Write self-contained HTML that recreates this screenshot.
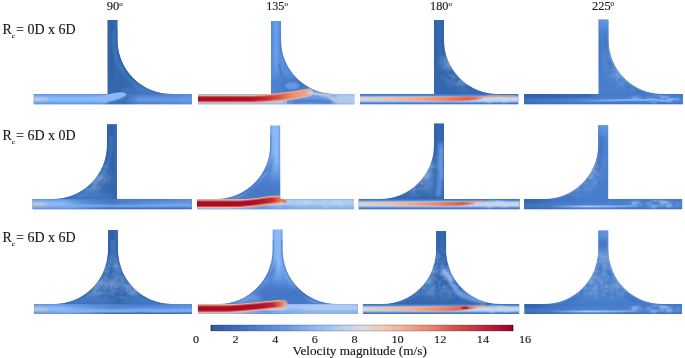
<!DOCTYPE html>
<html><head><meta charset="utf-8"><style>
html,body{margin:0;padding:0;background:#fff;}
svg{display:block;}
</style></head><body>
<svg width="685" height="358" viewBox="0 0 685 358">
<defs>

<filter id="b05" filterUnits="userSpaceOnUse" x="-800" y="-800" width="2000" height="2000"><feGaussianBlur stdDeviation="0.5"/></filter>
<filter id="b1" filterUnits="userSpaceOnUse" x="-800" y="-800" width="2000" height="2000"><feGaussianBlur stdDeviation="1"/></filter>
<filter id="b15" filterUnits="userSpaceOnUse" x="-800" y="-800" width="2000" height="2000"><feGaussianBlur stdDeviation="1.5"/></filter>
<filter id="b2" filterUnits="userSpaceOnUse" x="-800" y="-800" width="2000" height="2000"><feGaussianBlur stdDeviation="2"/></filter>
<filter id="b3" filterUnits="userSpaceOnUse" x="-800" y="-800" width="2000" height="2000"><feGaussianBlur stdDeviation="3.5"/></filter>
<filter id="mL0" x="0" y="0" width="100%" height="100%"><feTurbulence type="fractalNoise" baseFrequency="0.06 0.08" numOctaves="2" seed="1"/><feColorMatrix type="matrix" values="0 0 0 0 0.38 0 0 0 0 0.56 0 0 0 0 0.87 1.6 0 0 0 -0.62"/><feGaussianBlur stdDeviation="0.7"/></filter><filter id="mL1" x="0" y="0" width="100%" height="100%"><feTurbulence type="fractalNoise" baseFrequency="0.06 0.08" numOctaves="2" seed="8"/><feColorMatrix type="matrix" values="0 0 0 0 0.38 0 0 0 0 0.56 0 0 0 0 0.87 1.6 0 0 0 -0.58"/><feGaussianBlur stdDeviation="0.7"/></filter><filter id="mL2" x="0" y="0" width="100%" height="100%"><feTurbulence type="fractalNoise" baseFrequency="0.07 0.07" numOctaves="2" seed="15"/><feColorMatrix type="matrix" values="0 0 0 0 0.17 0 0 0 0 0.34 0 0 0 0 0.62 1.6 0 0 0 -0.65"/><feGaussianBlur stdDeviation="0.7"/></filter><filter id="mL3" x="0" y="0" width="100%" height="100%"><feTurbulence type="fractalNoise" baseFrequency="0.06 0.07" numOctaves="2" seed="22"/><feColorMatrix type="matrix" values="0 0 0 0 0.48 0 0 0 0 0.66 0 0 0 0 0.93 1.6 0 0 0 -0.6"/><feGaussianBlur stdDeviation="0.7"/></filter><filter id="mL4" x="0" y="0" width="100%" height="100%"><feTurbulence type="fractalNoise" baseFrequency="0.12 0.16" numOctaves="2" seed="29"/><feColorMatrix type="matrix" values="0 0 0 0 0.55 0 0 0 0 0.72 0 0 0 0 0.96 2.0 0 0 0 -0.8"/><feGaussianBlur stdDeviation="0.7"/></filter><filter id="mL5" x="0" y="0" width="100%" height="100%"><feTurbulence type="fractalNoise" baseFrequency="0.22 0.26" numOctaves="2" seed="36"/><feColorMatrix type="matrix" values="0 0 0 0 0.24 0 0 0 0 0.42 0 0 0 0 0.72 1.8 0 0 0 -0.7"/><feGaussianBlur stdDeviation="0.7"/></filter>
<linearGradient id="vfade" x1="0" y1="0" x2="0" y2="1"><stop offset="0" stop-color="#fff"/><stop offset="0.55" stop-color="#fff"/><stop offset="1" stop-color="#000"/></linearGradient>
<radialGradient id="rsoft" cx="0.5" cy="0.5" r="0.5"><stop offset="0" stop-color="#fff"/><stop offset="0.6" stop-color="#fff"/><stop offset="1" stop-color="#000"/></radialGradient>
<mask id="softm" maskContentUnits="objectBoundingBox"><rect width="1" height="1" fill="url(#rsoft)"/></mask>
<clipPath id="above"><rect x="-500" y="-500" width="1000" height="499.5"/></clipPath>
<mask id="mvf" maskContentUnits="objectBoundingBox"><rect width="1" height="1" fill="url(#vfade)"/></mask>
<clipPath id="c1"><path d="M-74.00,0 L0,0 L0,-74.00 L10,-74.00 L10,-54 A54,54 0 0 0 64,0 L84.50,0 L84.50,10.3 L-74.00,10.3 Z"/></clipPath>
<linearGradient id="g1" x1="0" y1="0" x2="1" y2="0"><stop offset="0" stop-color="#3366ae"/><stop offset="0.5" stop-color="#2f60a3"/><stop offset="0.85" stop-color="#386ab3"/><stop offset="1" stop-color="#3b6db6"/></linearGradient>
<linearGradient id="g2" x1="0" y1="0" x2="0" y2="1"><stop offset="0" stop-color="#4679c8"/><stop offset="0.35" stop-color="#5a8ee0"/><stop offset="0.6" stop-color="#689be4"/><stop offset="1" stop-color="#4679c8"/></linearGradient>
<linearGradient id="g3" x1="44.5" y1="0" x2="84.5" y2="0" gradientUnits="userSpaceOnUse"><stop offset="0" stop-color="#6a9de6" stop-opacity="0"/><stop offset="1" stop-color="#6a9de6" stop-opacity="0.5"/></linearGradient>
<linearGradient id="g4" x1="0" y1="0" x2="0" y2="1"><stop offset="0" stop-color="#5d90de"/><stop offset="0.2" stop-color="#78a9ee"/><stop offset="0.5" stop-color="#93bef6"/><stop offset="0.8" stop-color="#78a9ee"/><stop offset="1" stop-color="#5a8cdc"/></linearGradient>
<linearGradient id="g5" x1="-15" y1="0" x2="0" y2="0" gradientUnits="userSpaceOnUse"><stop offset="0" stop-color="#8cb8f4" stop-opacity="0"/><stop offset="1" stop-color="#8cb8f4" stop-opacity="1"/></linearGradient>
<linearGradient id="g6" x1="-4" y1="0" x2="32" y2="0" gradientUnits="userSpaceOnUse"><stop offset="0" stop-color="#3668b0"/><stop offset="0.6" stop-color="#3668b0" stop-opacity="0.9"/><stop offset="1" stop-color="#3668b0" stop-opacity="0"/></linearGradient>
<clipPath id="c2"><path d="M-73.00,0 L0,0 L0,-73.00 L10,-73.00 L10,-54 A54,54 0 0 0 64,0 L83.30,0 L83.30,10.3 L-73.00,10.3 Z"/></clipPath>
<linearGradient id="g7" x1="0" y1="-73" x2="0" y2="0" gradientUnits="userSpaceOnUse"><stop offset="0" stop-color="#5f93e2"/><stop offset="0.6" stop-color="#5a8edf"/><stop offset="1" stop-color="#5286d8"/></linearGradient>
<linearGradient id="g8" x1="0" y1="0" x2="1" y2="0"><stop offset="0" stop-color="#4f85d8"/><stop offset="0.5" stop-color="#6fa0ea"/><stop offset="1" stop-color="#5288da"/></linearGradient>
<linearGradient id="g9" x1="0" y1="0" x2="0" y2="1"><stop offset="0" stop-color="#8db6ef"/><stop offset="0.15" stop-color="#a9c7f0"/><stop offset="0.5" stop-color="#b8cfee"/><stop offset="0.85" stop-color="#a9c7f0"/><stop offset="1" stop-color="#86b1ee"/></linearGradient>
<linearGradient id="g10" x1="16" y1="0" x2="68" y2="0" gradientUnits="userSpaceOnUse"><stop offset="0" stop-color="#5a8ee0" stop-opacity="0.9"/><stop offset="0.8" stop-color="#5a8ee0" stop-opacity="0.8"/><stop offset="1" stop-color="#5a8ee0" stop-opacity="0"/></linearGradient>
<linearGradient id="g11" x1="-73" y1="0" x2="38" y2="0" gradientUnits="userSpaceOnUse"><stop offset="0" stop-color="#f0ae90"/><stop offset="0.9" stop-color="#f2b294"/><stop offset="1" stop-color="#e4c8c0" stop-opacity="0.7"/></linearGradient>
<linearGradient id="g12" x1="-73" y1="0" x2="38" y2="0" gradientUnits="userSpaceOnUse"><stop offset="0" stop-color="#d64c46"/><stop offset="0.6" stop-color="#d85048"/><stop offset="0.75" stop-color="#e2684f"/><stop offset="0.88" stop-color="#ee9474"/><stop offset="1" stop-color="#f0a888" stop-opacity="0.75"/></linearGradient>
<linearGradient id="g13" x1="-73" y1="0" x2="38" y2="0" gradientUnits="userSpaceOnUse"><stop offset="0" stop-color="#a00d2a"/><stop offset="0.45" stop-color="#a50f2c"/><stop offset="0.6" stop-color="#bc2636"/><stop offset="0.72" stop-color="#d04644" stop-opacity="0.7"/><stop offset="0.82" stop-color="#e07058" stop-opacity="0"/></linearGradient>
<clipPath id="c3"><path d="M-74.00,0 L0,0 L0,-74.00 L10,-74.00 L10,-54 A54,54 0 0 0 64,0 L84.30,0 L84.30,10.3 L-74.00,10.3 Z"/></clipPath>
<linearGradient id="g14" x1="0" y1="0" x2="1" y2="0"><stop offset="0" stop-color="#3062a8"/><stop offset="0.5" stop-color="#3769b2"/><stop offset="1" stop-color="#3163a9"/></linearGradient>
<linearGradient id="g15" x1="0" y1="0" x2="0" y2="1"><stop offset="0" stop-color="#3a6cb8"/><stop offset="0.13" stop-color="#5085d4"/><stop offset="0.27" stop-color="#9cc0f0"/><stop offset="0.4" stop-color="#ccd6e6"/><stop offset="0.5" stop-color="#d6d2d4"/><stop offset="0.6" stop-color="#ccd6e6"/><stop offset="0.73" stop-color="#9cc0f0"/><stop offset="0.87" stop-color="#5085d4"/><stop offset="1" stop-color="#3a6cb8"/></linearGradient>
<linearGradient id="g16" x1="-74" y1="0" x2="48" y2="0" gradientUnits="userSpaceOnUse"><stop offset="0" stop-color="#dcd4d0"/><stop offset="0.3" stop-color="#f0c0a8"/><stop offset="0.52" stop-color="#f2aa8a"/><stop offset="0.7" stop-color="#ec8c72"/><stop offset="0.88" stop-color="#e26a56"/><stop offset="1" stop-color="#e26a56" stop-opacity="0.3"/></linearGradient>
<linearGradient id="g17" x1="-74" y1="0" x2="48" y2="0" gradientUnits="userSpaceOnUse"><stop offset="0" stop-color="#e4cdc2" stop-opacity="0"/><stop offset="0.4" stop-color="#f2a888" stop-opacity="0.5"/><stop offset="0.7" stop-color="#ea8468"/><stop offset="0.9" stop-color="#dc5a4c"/><stop offset="1" stop-color="#dc5a4c" stop-opacity="0.3"/></linearGradient>
<clipPath id="c4"><path d="M-74.50,0 L0,0 L0,-74.40 L10,-74.40 L10,-54 A54,54 0 0 0 64,0 L84.50,0 L84.50,10.3 L-74.50,10.3 Z"/></clipPath>
<linearGradient id="g18" x1="0" y1="-74.4" x2="0" y2="0" gradientUnits="userSpaceOnUse"><stop offset="0" stop-color="#5a90e0"/><stop offset="0.35" stop-color="#4c81d0"/><stop offset="1" stop-color="#487dcc"/></linearGradient>
<linearGradient id="g19" x1="0" y1="0" x2="1" y2="0"><stop offset="0" stop-color="#3f73c0"/><stop offset="0.5" stop-color="#5084d2"/><stop offset="1" stop-color="#4c80ce"/></linearGradient>
<linearGradient id="g20" x1="0" y1="-74.4" x2="0" y2="-54.400000000000006" gradientUnits="userSpaceOnUse"><stop offset="0" stop-color="#6a9de6" stop-opacity="0.7"/><stop offset="1" stop-color="#6a9de6" stop-opacity="0"/></linearGradient>
<linearGradient id="g21" x1="0" y1="0" x2="0" y2="1"><stop offset="0" stop-color="#4479c8"/><stop offset="0.45" stop-color="#4c81d1"/><stop offset="0.75" stop-color="#5085d4"/><stop offset="1" stop-color="#3a6cb8"/></linearGradient>
<linearGradient id="g22" x1="-74.5" y1="0" x2="4" y2="0" gradientUnits="userSpaceOnUse"><stop offset="0" stop-color="#3264ac" stop-opacity="0.9"/><stop offset="0.8" stop-color="#3264ac" stop-opacity="0.7"/><stop offset="1" stop-color="#3264ac" stop-opacity="0"/></linearGradient>
<linearGradient id="g23" x1="-74.5" y1="0" x2="-14.5" y2="0" gradientUnits="userSpaceOnUse"><stop offset="0" stop-color="#2f60a6" stop-opacity="0.5"/><stop offset="1" stop-color="#2f60a6" stop-opacity="0"/></linearGradient>
<linearGradient id="g24" x1="-20" y1="0" x2="84.5" y2="0" gradientUnits="userSpaceOnUse"><stop offset="0" stop-color="#86b3f2" stop-opacity="0"/><stop offset="0.3" stop-color="#86b3f2" stop-opacity="0.95"/><stop offset="1" stop-color="#86b3f2" stop-opacity="0.8"/></linearGradient>
<clipPath id="c5"><path d="M-74.50,0 L-54,0 A54,54 0 0 0 0,-54 L0,-74.70 L10,-74.70 L10,0 L84.80,0 L84.80,10.2 L-74.50,10.2 Z"/></clipPath>
<linearGradient id="g25" x1="0" y1="0" x2="1" y2="0"><stop offset="0" stop-color="#3366ae"/><stop offset="0.5" stop-color="#2f60a3"/><stop offset="0.85" stop-color="#386ab3"/><stop offset="1" stop-color="#3b6db6"/></linearGradient>
<linearGradient id="g26" x1="0" y1="0" x2="0" y2="1"><stop offset="0" stop-color="#4679c8"/><stop offset="0.35" stop-color="#5a8ee0"/><stop offset="0.6" stop-color="#689be4"/><stop offset="1" stop-color="#4679c8"/></linearGradient>
<linearGradient id="g27" x1="44.80000000000001" y1="0" x2="84.80000000000001" y2="0" gradientUnits="userSpaceOnUse"><stop offset="0" stop-color="#6a9de6" stop-opacity="0"/><stop offset="1" stop-color="#6a9de6" stop-opacity="0.5"/></linearGradient>
<linearGradient id="g28" x1="0" y1="0" x2="0" y2="1"><stop offset="0" stop-color="#5d90de"/><stop offset="0.2" stop-color="#78a9ee"/><stop offset="0.5" stop-color="#93bef6"/><stop offset="0.8" stop-color="#78a9ee"/><stop offset="1" stop-color="#5a8cdc"/></linearGradient>
<linearGradient id="g29" x1="-5" y1="0" x2="30" y2="0" gradientUnits="userSpaceOnUse"><stop offset="0" stop-color="#fff"/><stop offset="1" stop-color="#000"/></linearGradient>
<mask id="hm1" maskUnits="userSpaceOnUse" x="-300" y="-300" width="600" height="600"><rect x="-300" y="-300" width="600" height="600" fill="url(#g29)"/></mask>
<linearGradient id="g30" x1="-45" y1="0" x2="40" y2="0" gradientUnits="userSpaceOnUse"><stop offset="0" stop-color="#4a7fcf" stop-opacity="0"/><stop offset="0.35" stop-color="#4a7fcf" stop-opacity="0.75"/><stop offset="0.6" stop-color="#4679c8" stop-opacity="0.9"/><stop offset="1" stop-color="#4679c8" stop-opacity="0"/></linearGradient>
<linearGradient id="g31" x1="-45" y1="0" x2="40" y2="0" gradientUnits="userSpaceOnUse"><stop offset="0" stop-color="#3f72c0" stop-opacity="0"/><stop offset="0.4" stop-color="#3f72c0" stop-opacity="0.35"/><stop offset="0.6" stop-color="#3f72c0" stop-opacity="0.5"/><stop offset="1" stop-color="#3f72c0" stop-opacity="0"/></linearGradient>
<linearGradient id="g32" x1="-35" y1="0" x2="84.80000000000001" y2="0" gradientUnits="userSpaceOnUse"><stop offset="0" stop-color="#3a6cb8" stop-opacity="0"/><stop offset="0.3" stop-color="#3a6cb8" stop-opacity="0.8"/><stop offset="1" stop-color="#3a6cb8" stop-opacity="0.8"/></linearGradient>
<clipPath id="c6"><path d="M-73.20,0 L-54,0 A54,54 0 0 0 0,-54 L0,-73.40 L10,-73.40 L10,0 L83.80,0 L83.80,10.2 L-73.20,10.2 Z"/></clipPath>
<linearGradient id="g33" x1="0" y1="-73.4" x2="0" y2="0" gradientUnits="userSpaceOnUse"><stop offset="0" stop-color="#86b5f3"/><stop offset="0.3" stop-color="#7eaef0"/><stop offset="0.55" stop-color="#6599e4"/><stop offset="0.85" stop-color="#5285d6"/><stop offset="1" stop-color="#4a7ccc"/></linearGradient>
<linearGradient id="g34" x1="0" y1="0" x2="1" y2="0"><stop offset="0" stop-color="#6a9de6"/><stop offset="0.25" stop-color="#88b6f3"/><stop offset="0.7" stop-color="#90bbf4"/><stop offset="1" stop-color="#6a9de6"/></linearGradient>
<linearGradient id="g35" x1="0" y1="0" x2="0" y2="1"><stop offset="0" stop-color="#8db6ef"/><stop offset="0.15" stop-color="#a9c7f0"/><stop offset="0.5" stop-color="#b8cfee"/><stop offset="0.85" stop-color="#a9c7f0"/><stop offset="1" stop-color="#86b1ee"/></linearGradient>
<linearGradient id="g36" x1="-45" y1="0" x2="30" y2="0" gradientUnits="userSpaceOnUse"><stop offset="0" stop-color="#5a8ee0" stop-opacity="0"/><stop offset="0.5" stop-color="#5a8ee0" stop-opacity="0.8"/><stop offset="1" stop-color="#5a8ee0" stop-opacity="0"/></linearGradient>
<linearGradient id="g37" x1="-73.19999999999999" y1="0" x2="12" y2="0" gradientUnits="userSpaceOnUse"><stop offset="0" stop-color="#f0ae90"/><stop offset="0.93" stop-color="#f2b294"/><stop offset="1" stop-color="#f2b294" stop-opacity="0.5"/></linearGradient>
<linearGradient id="g38" x1="-73.19999999999999" y1="0" x2="12" y2="0" gradientUnits="userSpaceOnUse"><stop offset="0" stop-color="#d64c46"/><stop offset="0.75" stop-color="#da5448"/><stop offset="0.92" stop-color="#e6765e"/><stop offset="1" stop-color="#f0a080" stop-opacity="0.7"/></linearGradient>
<linearGradient id="g39" x1="-73.19999999999999" y1="0" x2="12" y2="0" gradientUnits="userSpaceOnUse"><stop offset="0" stop-color="#a00d2a"/><stop offset="0.4" stop-color="#a50f2c"/><stop offset="0.72" stop-color="#a8122e"/><stop offset="0.88" stop-color="#be2a36"/><stop offset="1" stop-color="#d85048" stop-opacity="0.2"/></linearGradient>
<clipPath id="c7"><path d="M-75.30,0 L-54,0 A54,54 0 0 0 0,-54 L0,-75.60 L10,-75.60 L10,0 L85.60,0 L85.60,10.2 L-75.30,10.2 Z"/></clipPath>
<linearGradient id="g40" x1="0" y1="0" x2="1" y2="0"><stop offset="0" stop-color="#3062a8"/><stop offset="0.5" stop-color="#3769b2"/><stop offset="1" stop-color="#3163a9"/></linearGradient>
<linearGradient id="g41" x1="0" y1="0" x2="0" y2="1"><stop offset="0" stop-color="#3a6cb8"/><stop offset="0.13" stop-color="#5085d4"/><stop offset="0.27" stop-color="#9cc0f0"/><stop offset="0.4" stop-color="#ccd6e6"/><stop offset="0.5" stop-color="#d6d2d4"/><stop offset="0.6" stop-color="#ccd6e6"/><stop offset="0.73" stop-color="#9cc0f0"/><stop offset="0.87" stop-color="#5085d4"/><stop offset="1" stop-color="#3a6cb8"/></linearGradient>
<linearGradient id="g42" x1="-75.30000000000001" y1="0" x2="40" y2="0" gradientUnits="userSpaceOnUse"><stop offset="0" stop-color="#dcd4d0"/><stop offset="0.3" stop-color="#f0c0a8"/><stop offset="0.52" stop-color="#f2aa8a"/><stop offset="0.7" stop-color="#ec8c72"/><stop offset="0.88" stop-color="#e26a56"/><stop offset="1" stop-color="#e26a56" stop-opacity="0.3"/></linearGradient>
<linearGradient id="g43" x1="-75.30000000000001" y1="0" x2="40" y2="0" gradientUnits="userSpaceOnUse"><stop offset="0" stop-color="#e4cdc2" stop-opacity="0"/><stop offset="0.4" stop-color="#f2a888" stop-opacity="0.5"/><stop offset="0.7" stop-color="#ea8468"/><stop offset="0.9" stop-color="#dc5a4c"/><stop offset="1" stop-color="#dc5a4c" stop-opacity="0.3"/></linearGradient>
<clipPath id="c8"><path d="M-74.10,0 L-54,0 A54,54 0 0 0 0,-54 L0,-73.80 L10,-73.80 L10,0 L84.00,0 L84.00,10.2 L-74.10,10.2 Z"/></clipPath>
<linearGradient id="g44" x1="0" y1="-73.8" x2="0" y2="0" gradientUnits="userSpaceOnUse"><stop offset="0" stop-color="#5a90e0"/><stop offset="0.35" stop-color="#4c81d0"/><stop offset="1" stop-color="#487dcc"/></linearGradient>
<linearGradient id="g45" x1="0" y1="0" x2="1" y2="0"><stop offset="0" stop-color="#3f73c0"/><stop offset="0.5" stop-color="#5084d2"/><stop offset="1" stop-color="#4c80ce"/></linearGradient>
<linearGradient id="g46" x1="0" y1="-73.8" x2="0" y2="-53.8" gradientUnits="userSpaceOnUse"><stop offset="0" stop-color="#6a9de6" stop-opacity="0.7"/><stop offset="1" stop-color="#6a9de6" stop-opacity="0"/></linearGradient>
<linearGradient id="g47" x1="0" y1="0" x2="0" y2="1"><stop offset="0" stop-color="#4479c8"/><stop offset="0.45" stop-color="#4c81d1"/><stop offset="0.75" stop-color="#5085d4"/><stop offset="1" stop-color="#3a6cb8"/></linearGradient>
<linearGradient id="g48" x1="-74.10000000000002" y1="0" x2="-44" y2="0" gradientUnits="userSpaceOnUse"><stop offset="0" stop-color="#3264ac" stop-opacity="0.8"/><stop offset="0.5" stop-color="#3264ac" stop-opacity="0.5"/><stop offset="1" stop-color="#3264ac" stop-opacity="0"/></linearGradient>
<linearGradient id="g49" x1="-74.10000000000002" y1="0" x2="-14.100000000000023" y2="0" gradientUnits="userSpaceOnUse"><stop offset="0" stop-color="#2f60a6" stop-opacity="0.5"/><stop offset="1" stop-color="#2f60a6" stop-opacity="0"/></linearGradient>
<linearGradient id="g50" x1="-50" y1="0" x2="40" y2="0" gradientUnits="userSpaceOnUse"><stop offset="0" stop-color="#a8c8f5" stop-opacity="0"/><stop offset="0.45" stop-color="#b0ccf5" stop-opacity="1"/><stop offset="1" stop-color="#a8c8f5" stop-opacity="0.3"/></linearGradient>
<linearGradient id="g51" x1="-50" y1="0" x2="40" y2="0" gradientUnits="userSpaceOnUse"><stop offset="0" stop-color="#6a9ce6" stop-opacity="0"/><stop offset="0.5" stop-color="#6a9ce6" stop-opacity="0.7"/><stop offset="1" stop-color="#6a9ce6" stop-opacity="0"/></linearGradient>
<clipPath id="c9"><path d="M-73.90,0 L-54,0 A54,54 0 0 0 0,-54 L0,-73.90 L10,-73.90 L10,-54 A54,54 0 0 0 64,0 L83.90,0 L83.90,10.1 L-73.90,10.1 Z"/></clipPath>
<linearGradient id="g52" x1="0" y1="0" x2="1" y2="0"><stop offset="0" stop-color="#3366ae"/><stop offset="0.5" stop-color="#2f60a3"/><stop offset="0.85" stop-color="#386ab3"/><stop offset="1" stop-color="#3b6db6"/></linearGradient>
<linearGradient id="g53" x1="0" y1="0" x2="0" y2="1"><stop offset="0" stop-color="#4679c8"/><stop offset="0.35" stop-color="#5a8ee0"/><stop offset="0.6" stop-color="#689be4"/><stop offset="1" stop-color="#4679c8"/></linearGradient>
<linearGradient id="g54" x1="43.900000000000006" y1="0" x2="83.9" y2="0" gradientUnits="userSpaceOnUse"><stop offset="0" stop-color="#6a9de6" stop-opacity="0"/><stop offset="1" stop-color="#6a9de6" stop-opacity="0.5"/></linearGradient>
<linearGradient id="g55" x1="0" y1="0" x2="0" y2="1"><stop offset="0" stop-color="#5d90de"/><stop offset="0.2" stop-color="#78a9ee"/><stop offset="0.5" stop-color="#93bef6"/><stop offset="0.8" stop-color="#78a9ee"/><stop offset="1" stop-color="#5a8cdc"/></linearGradient>
<linearGradient id="g56" x1="-5" y1="0" x2="30" y2="0" gradientUnits="userSpaceOnUse"><stop offset="0" stop-color="#fff"/><stop offset="1" stop-color="#000"/></linearGradient>
<mask id="hm2" maskUnits="userSpaceOnUse" x="-300" y="-300" width="600" height="600"><rect x="-300" y="-300" width="600" height="600" fill="url(#g56)"/></mask>
<linearGradient id="g57" x1="-45" y1="0" x2="40" y2="0" gradientUnits="userSpaceOnUse"><stop offset="0" stop-color="#4a7fcf" stop-opacity="0"/><stop offset="0.35" stop-color="#4a7fcf" stop-opacity="0.44999999999999996"/><stop offset="0.6" stop-color="#4679c8" stop-opacity="0.54"/><stop offset="1" stop-color="#4679c8" stop-opacity="0"/></linearGradient>
<linearGradient id="g58" x1="-45" y1="0" x2="40" y2="0" gradientUnits="userSpaceOnUse"><stop offset="0" stop-color="#3f72c0" stop-opacity="0"/><stop offset="0.4" stop-color="#3f72c0" stop-opacity="0.21"/><stop offset="0.6" stop-color="#3f72c0" stop-opacity="0.3"/><stop offset="1" stop-color="#3f72c0" stop-opacity="0"/></linearGradient>
<linearGradient id="g59" x1="-35" y1="0" x2="83.9" y2="0" gradientUnits="userSpaceOnUse"><stop offset="0" stop-color="#3a6cb8" stop-opacity="0"/><stop offset="0.3" stop-color="#3a6cb8" stop-opacity="0.8"/><stop offset="1" stop-color="#3a6cb8" stop-opacity="0.8"/></linearGradient>
<clipPath id="c10"><path d="M-74.70,0 L-54,0 A54,54 0 0 0 0,-54 L0,-74.40 L10,-74.40 L10,-54 A54,54 0 0 0 64,0 L85.20,0 L85.20,10.1 L-74.70,10.1 Z"/></clipPath>
<linearGradient id="g60" x1="0" y1="-74.4" x2="0" y2="0" gradientUnits="userSpaceOnUse"><stop offset="0" stop-color="#86b5f3"/><stop offset="0.3" stop-color="#7eaef0"/><stop offset="0.55" stop-color="#6599e4"/><stop offset="0.85" stop-color="#5285d6"/><stop offset="1" stop-color="#4a7ccc"/></linearGradient>
<linearGradient id="g61" x1="0" y1="0" x2="1" y2="0"><stop offset="0" stop-color="#6a9de6"/><stop offset="0.25" stop-color="#88b6f3"/><stop offset="0.7" stop-color="#90bbf4"/><stop offset="1" stop-color="#6a9de6"/></linearGradient>
<linearGradient id="g62" x1="0" y1="0" x2="0" y2="1"><stop offset="0" stop-color="#8db6ef"/><stop offset="0.15" stop-color="#a9c7f0"/><stop offset="0.5" stop-color="#b8cfee"/><stop offset="0.85" stop-color="#a9c7f0"/><stop offset="1" stop-color="#86b1ee"/></linearGradient>
<linearGradient id="g63" x1="-45" y1="0" x2="30" y2="0" gradientUnits="userSpaceOnUse"><stop offset="0" stop-color="#5a8ee0" stop-opacity="0"/><stop offset="0.5" stop-color="#5a8ee0" stop-opacity="0.8"/><stop offset="1" stop-color="#5a8ee0" stop-opacity="0"/></linearGradient>
<linearGradient id="g64" x1="-74.70000000000002" y1="0" x2="11" y2="0" gradientUnits="userSpaceOnUse"><stop offset="0" stop-color="#f0ae90"/><stop offset="0.93" stop-color="#f2b294"/><stop offset="1" stop-color="#f2b294" stop-opacity="0.5"/></linearGradient>
<linearGradient id="g65" x1="-74.70000000000002" y1="0" x2="11" y2="0" gradientUnits="userSpaceOnUse"><stop offset="0" stop-color="#d64c46"/><stop offset="0.75" stop-color="#da5448"/><stop offset="0.92" stop-color="#e6765e"/><stop offset="1" stop-color="#f0a080" stop-opacity="0.7"/></linearGradient>
<linearGradient id="g66" x1="-74.70000000000002" y1="0" x2="11" y2="0" gradientUnits="userSpaceOnUse"><stop offset="0" stop-color="#a00d2a"/><stop offset="0.4" stop-color="#a50f2c"/><stop offset="0.72" stop-color="#a8122e"/><stop offset="0.88" stop-color="#be2a36"/><stop offset="1" stop-color="#d85048" stop-opacity="0.2"/></linearGradient>
<clipPath id="c11"><path d="M-73.20,0 L-54,0 A54,54 0 0 0 0,-54 L0,-73.10 L10,-73.10 L10,-54 A54,54 0 0 0 64,0 L83.10,0 L83.10,10.1 L-73.20,10.1 Z"/></clipPath>
<linearGradient id="g67" x1="0" y1="0" x2="1" y2="0"><stop offset="0" stop-color="#3062a8"/><stop offset="0.5" stop-color="#3769b2"/><stop offset="1" stop-color="#3163a9"/></linearGradient>
<linearGradient id="g68" x1="0" y1="0" x2="0" y2="1"><stop offset="0" stop-color="#3a6cb8"/><stop offset="0.13" stop-color="#5085d4"/><stop offset="0.27" stop-color="#9cc0f0"/><stop offset="0.4" stop-color="#ccd6e6"/><stop offset="0.5" stop-color="#d6d2d4"/><stop offset="0.6" stop-color="#ccd6e6"/><stop offset="0.73" stop-color="#9cc0f0"/><stop offset="0.87" stop-color="#5085d4"/><stop offset="1" stop-color="#3a6cb8"/></linearGradient>
<linearGradient id="g69" x1="-73.20000000000005" y1="0" x2="40" y2="0" gradientUnits="userSpaceOnUse"><stop offset="0" stop-color="#dcd4d0"/><stop offset="0.3" stop-color="#f0c0a8"/><stop offset="0.52" stop-color="#f2aa8a"/><stop offset="0.7" stop-color="#ec8c72"/><stop offset="0.88" stop-color="#e26a56"/><stop offset="1" stop-color="#e26a56" stop-opacity="0.3"/></linearGradient>
<linearGradient id="g70" x1="-73.20000000000005" y1="0" x2="40" y2="0" gradientUnits="userSpaceOnUse"><stop offset="0" stop-color="#e4cdc2" stop-opacity="0"/><stop offset="0.4" stop-color="#f2a888" stop-opacity="0.5"/><stop offset="0.7" stop-color="#ea8468"/><stop offset="0.9" stop-color="#dc5a4c"/><stop offset="1" stop-color="#dc5a4c" stop-opacity="0.3"/></linearGradient>
<clipPath id="c12"><path d="M-74.00,0 L-54,0 A54,54 0 0 0 0,-54 L0,-73.50 L10,-73.50 L10,-54 A54,54 0 0 0 64,0 L83.80,0 L83.80,10.1 L-74.00,10.1 Z"/></clipPath>
<linearGradient id="g71" x1="0" y1="-73.5" x2="0" y2="0" gradientUnits="userSpaceOnUse"><stop offset="0" stop-color="#5a90e0"/><stop offset="0.35" stop-color="#4c81d0"/><stop offset="1" stop-color="#487dcc"/></linearGradient>
<linearGradient id="g72" x1="0" y1="0" x2="1" y2="0"><stop offset="0" stop-color="#3f73c0"/><stop offset="0.5" stop-color="#5084d2"/><stop offset="1" stop-color="#4c80ce"/></linearGradient>
<linearGradient id="g73" x1="0" y1="-73.5" x2="0" y2="-53.5" gradientUnits="userSpaceOnUse"><stop offset="0" stop-color="#6a9de6" stop-opacity="0.7"/><stop offset="1" stop-color="#6a9de6" stop-opacity="0"/></linearGradient>
<linearGradient id="g74" x1="0" y1="0" x2="0" y2="1"><stop offset="0" stop-color="#4479c8"/><stop offset="0.45" stop-color="#4c81d1"/><stop offset="0.75" stop-color="#5085d4"/><stop offset="1" stop-color="#3a6cb8"/></linearGradient>
<linearGradient id="g75" x1="-74.0" y1="0" x2="-44" y2="0" gradientUnits="userSpaceOnUse"><stop offset="0" stop-color="#3264ac" stop-opacity="0.8"/><stop offset="0.5" stop-color="#3264ac" stop-opacity="0.5"/><stop offset="1" stop-color="#3264ac" stop-opacity="0"/></linearGradient>
<linearGradient id="g76" x1="-74.0" y1="0" x2="-14.0" y2="0" gradientUnits="userSpaceOnUse"><stop offset="0" stop-color="#2f60a6" stop-opacity="0.5"/><stop offset="1" stop-color="#2f60a6" stop-opacity="0"/></linearGradient>
<linearGradient id="g77" x1="-50" y1="0" x2="40" y2="0" gradientUnits="userSpaceOnUse"><stop offset="0" stop-color="#a8c8f5" stop-opacity="0"/><stop offset="0.45" stop-color="#b0ccf5" stop-opacity="1"/><stop offset="1" stop-color="#a8c8f5" stop-opacity="0.3"/></linearGradient>
<linearGradient id="g78" x1="-50" y1="0" x2="40" y2="0" gradientUnits="userSpaceOnUse"><stop offset="0" stop-color="#6a9ce6" stop-opacity="0"/><stop offset="0.5" stop-color="#6a9ce6" stop-opacity="0.7"/><stop offset="1" stop-color="#6a9ce6" stop-opacity="0"/></linearGradient>
<linearGradient id="g79" x1="0" y1="0" x2="1" y2="0"><stop offset="0" stop-color="#2c5a9e"/><stop offset="0.13" stop-color="#4678c8"/><stop offset="0.26" stop-color="#6a9ce8"/><stop offset="0.36" stop-color="#93bdf6"/><stop offset="0.45" stop-color="#c0d3ee"/><stop offset="0.5" stop-color="#dcdcdc"/><stop offset="0.57" stop-color="#efcbb8"/><stop offset="0.64" stop-color="#f4ad8c"/><stop offset="0.73" stop-color="#e8836a"/><stop offset="0.8" stop-color="#d6574b"/><stop offset="0.9" stop-color="#bb2a3c"/><stop offset="1" stop-color="#9c0027"/></linearGradient>
</defs>
<rect width="685" height="358" fill="#fff"/>
<g transform="translate(107.5,94)"><g clip-path="url(#c1)">
<rect x="-76.0" y="-76.0" width="162.5" height="88.3" fill="#3567ad" />
<rect x="0" y="-74.0" width="10" height="66.0" fill="url(#g1)" mask="url(#mvf)"/>
<g clip-path="url(#above)">
<path d="M6,-64 L6,-54 A58,58 0 0 0 64,4 L74,4" stroke="#4a7fcc" stroke-width="3" fill="none" opacity="0.6" stroke-linecap="butt" filter="url(#b1)"/>
</g>
<g clip-path="url(#above)">
<path d="M9.5,-64 L9.5,-54 A54.5,54.5 0 0 0 64,0.5 L74,0.5" stroke="#2f5fa5" stroke-width="1.5" fill="none" opacity="0.7" stroke-linecap="butt" filter="url(#b05)"/>
</g>
<ellipse cx="45.0" cy="-3.0" rx="32.0" ry="5.0" fill="#4a80cc" opacity="0.6" filter="url(#b2)"/>
<g mask="url(#softm)"><rect x="10.0" y="-50.0" width="54.0" height="50.0" fill="#fff" filter="url(#mL2)" opacity="0.5"/></g>
<rect x="-2.0" y="0.0" width="86.5" height="10.3" fill="url(#g2)" />
<rect x="44.5" y="0.0" width="40.0" height="10.3" fill="url(#g3)" />
<rect x="-74.0" y="0.0" width="74.0" height="10.3" fill="url(#g4)" />
<ellipse cx="-69.0" cy="5.0" rx="10.0" ry="1.7" fill="#d4d2d6" opacity="0.75" filter="url(#b1)"/>
<path d="M-15,2.2 Q0,1.5 4,-0.5 Q10,-1.8 14,-1.8 Q18,-1.6 19,0 Q19,2 16,3.5 Q8,6.5 -2,8.2 L-15,8.2 Z" fill="url(#g5)" opacity="1" filter="url(#b05)"/>
<path d="M-4,10.5 Q6,8 12,5.5 Q17,3 20,1 L28,1 L32,10.5 Z" fill="url(#g6)" opacity="0.9" filter="url(#b1)"/>
</g></g>
<g transform="translate(271,94)"><g clip-path="url(#c2)">
<rect x="-75.0" y="-75.0" width="160.3" height="87.3" fill="url(#g7)" />
<rect x="0" y="-73.0" width="10" height="63.0" fill="url(#g8)" mask="url(#mvf)"/>
<g clip-path="url(#above)">
<path d="M9.399999999999999,-64 L9.399999999999999,-54 A54.6,54.6 0 0 0 64,0.6000000000000014 L74,0.6000000000000014" stroke="#4a7cc8" stroke-width="1.6" fill="none" opacity="0.6" stroke-linecap="butt" filter="url(#b05)"/>
</g>
<ellipse cx="25.0" cy="-10.0" rx="30.0" ry="8.0" fill="#4272c0" opacity="0.45" filter="url(#b3)"/>
<ellipse cx="21.0" cy="-8.0" rx="9.0" ry="5.0" fill="#6e9fe8" opacity="0.8" filter="url(#b1)"/>
<ellipse cx="21" cy="-8" rx="9" ry="5" fill="none" stroke="#3564ad" stroke-width="2.2" opacity="0.7" filter="url(#b1)"/>
<path d="M8,-30 Q10,-18 14,-14" stroke="#3f6fbc" stroke-width="2" fill="none" opacity="0.6" stroke-linecap="butt" filter="url(#b05)"/>
<path d="M30,-14 Q34,-8 40,-4" stroke="#3f6fbc" stroke-width="2" fill="none" opacity="0.5" stroke-linecap="butt" filter="url(#b05)"/>
<rect x="-73.0" y="0.0" width="156.3" height="10.3" fill="url(#g9)" />
<rect x="12.0" y="6.0" width="71.3" height="4.0" fill="#6a9be4" opacity="0.45" filter="url(#b1)"/>
<rect x="16.0" y="1.0" width="52.0" height="9.3" fill="url(#g10)" filter="url(#b05)"/>
<path d="M22,8.5 Q40,5.5 60,8.5" stroke="#3868b4" stroke-width="2.2" fill="none" opacity="0.8" stroke-linecap="butt" filter="url(#b1)"/>
<path d="M-78,5.0 L-22,5.0 C0,4.8 18,2.6 38,-1.5999999999999996" stroke="url(#g11)" stroke-width="8.2" fill="none" opacity="1" stroke-linecap="round" filter="url(#b05)"/>
<path d="M-78,5.0 L-22,5.0 C0,4.8 18,2.6 38,-1.5999999999999996" stroke="url(#g12)" stroke-width="6.0" fill="none" opacity="1" stroke-linecap="round" filter="url(#b05)"/>
<path d="M-78,5.0 L-22,5.0 C0,4.8 18,2.6 38,-1.5999999999999996" stroke="url(#g13)" stroke-width="3.4" fill="none" opacity="1" stroke-linecap="butt" filter="url(#b05)"/>
<path d="M36,-1.6 Q48,-0.5 56,1.5 Q62,4.5 66,7.5 L85.30000000000001,8" stroke="#d2d6e0" stroke-width="2.6" fill="none" opacity="0.9" stroke-linecap="butt" filter="url(#b1)"/>
</g></g>
<g transform="translate(434,94)"><g clip-path="url(#c3)">
<rect x="-76.0" y="-76.0" width="162.3" height="88.3" fill="#3567ae" />
<rect x="0" y="-74.0" width="10" height="64.0" fill="url(#g14)" mask="url(#mvf)"/>
<g mask="url(#softm)"><rect x="2.0" y="-59.0" width="60.0" height="59.0" fill="#fff" filter="url(#mL1)" opacity="0.85"/></g>
<g mask="url(#softm)"><rect x="2.0" y="-59.0" width="60.0" height="59.0" fill="#fff" filter="url(#mL5)" opacity="0.6"/></g>
<rect x="-74.0" y="0.0" width="158.3" height="10.3" fill="url(#g15)" />
<g mask="url(#softm)"><rect x="36.0" y="0.0" width="48.3" height="10.3" fill="#fff" filter="url(#mL4)" opacity="0.85"/></g>
<path d="M-77,3.4 L18,2.6 Q38,1.8800000000000001 48,2.1999999999999997 L48,5.199999999999999 Q38,6.800000000000001 18,7.4 L-77,6.6 Z" fill="url(#g16)" opacity="1" filter="url(#b05)"/>
<path d="M-77,5.0 L13,5.0 Q36,5.0 48,3.8" stroke="url(#g17)" stroke-width="1.8" fill="none" opacity="1" stroke-linecap="butt" filter="url(#b05)"/>
<path d="M44,3.8 Q52,1.7999999999999998 58,2.1999999999999997 L80,1.9999999999999998" stroke="#ee9a80" stroke-width="1.5" fill="none" opacity="0.85" stroke-linecap="butt" filter="url(#b05)"/>
</g></g>
<g transform="translate(598.5,94)"><g clip-path="url(#c4)">
<rect x="-76.5" y="-76.4" width="163.0" height="88.7" fill="url(#g18)" />
<rect x="0" y="-74.4" width="10" height="64.4" fill="url(#g19)" mask="url(#mvf)"/>
<rect x="0.0" y="-74.4" width="10.0" height="20.0" fill="url(#g20)" />
<g clip-path="url(#above)">
<path d="M6.5,-64 L6.5,-54 A57.5,57.5 0 0 0 64,3.5 L74,3.5" stroke="#3a6cb8" stroke-width="5" fill="none" opacity="0.45" stroke-linecap="butt" filter="url(#b15)"/>
</g>
<g clip-path="url(#above)">
<path d="M9.399999999999999,-64 L9.399999999999999,-54 A54.6,54.6 0 0 0 64,0.6000000000000014 L74,0.6000000000000014" stroke="#5a8ee0" stroke-width="1.2" fill="none" opacity="0.6" stroke-linecap="butt" filter="url(#b05)"/>
</g>
<g mask="url(#softm)"><rect x="2.0" y="-59.0" width="60.0" height="59.0" fill="#fff" filter="url(#mL3)" opacity="0.55"/></g>
<g mask="url(#softm)"><rect x="2.0" y="-59.0" width="60.0" height="59.0" fill="#fff" filter="url(#mL2)" opacity="0.55"/></g>
<g mask="url(#softm)"><rect x="2.0" y="-59.0" width="60.0" height="59.0" fill="#fff" filter="url(#mL5)" opacity="0.8"/></g>
<rect x="-74.5" y="0.0" width="159.0" height="10.3" fill="url(#g21)" />
<rect x="-74.5" y="0.0" width="78.5" height="4.0" fill="url(#g22)" filter="url(#b05)"/>
<rect x="-74.5" y="0.0" width="60.0" height="10.3" fill="url(#g23)" />
<path d="M-20,6.5 Q0,7 20,6.2 T50,6 Q55,4.2 60,6 T70,6 T80,5.5" stroke="url(#g24)" stroke-width="1.8" fill="none" opacity="1" stroke-linecap="butt" filter="url(#b05)"/>
<g mask="url(#softm)"><rect x="25.0" y="0.0" width="59.5" height="10.3" fill="#fff" filter="url(#mL4)" opacity="0.6"/></g>
</g></g>
<g transform="translate(107,199)"><g clip-path="url(#c5)">
<rect x="-76.5" y="-76.7" width="163.3" height="88.9" fill="#3567ad" />
<rect x="0" y="-74.7" width="10" height="66.7" fill="url(#g25)" mask="url(#mvf)"/>
<g clip-path="url(#above)">
<path d="M-64,4 L-54,4 A58,58 0 0 0 4,-54 L4,-64" stroke="#4a7fcc" stroke-width="3" fill="none" opacity="0.6" stroke-linecap="butt" filter="url(#b1)"/>
</g>
<g clip-path="url(#above)">
<path d="M-64,0.5 L-54,0.5 A54.5,54.5 0 0 0 0.5,-54 L0.5,-64" stroke="#2f5fa5" stroke-width="1.5" fill="none" opacity="0.7" stroke-linecap="butt" filter="url(#b05)"/>
</g>
<ellipse cx="-25.0" cy="-3.0" rx="32.0" ry="5.0" fill="#4a80cc" opacity="0.6" filter="url(#b2)"/>
<g mask="url(#softm)"><rect x="-50.0" y="-50.0" width="56.0" height="50.0" fill="#fff" filter="url(#mL0)" opacity="0.7"/></g>
<g mask="url(#softm)"><rect x="-50.0" y="-50.0" width="56.0" height="50.0" fill="#fff" filter="url(#mL5)" opacity="0.6"/></g>
<rect x="-2.0" y="0.0" width="86.8" height="10.2" fill="url(#g26)" />
<rect x="44.8" y="0.0" width="40.0" height="10.2" fill="url(#g27)" />
<rect x="-74.5" y="0.0" width="104.5" height="10.2" fill="url(#g28)" mask="url(#hm1)"/>
<ellipse cx="-69.5" cy="5.0" rx="10.0" ry="1.7" fill="#dcc8c0" opacity="0.75" filter="url(#b1)"/>
<rect x="-45.0" y="0.0" width="85.0" height="6.1" fill="url(#g30)" />
<rect x="-45.0" y="0.0" width="85.0" height="10.2" fill="url(#g31)" />
<path d="M-40,6.8 Q-10,6 15,7 T60,6.5 T84.80000000000001,7" stroke="#86b3f2" stroke-width="1.8" fill="none" opacity="0.8" stroke-linecap="butt" filter="url(#b1)"/>
<path d="M-35,9.2 L84.80000000000001,9.2" stroke="url(#g32)" stroke-width="1.5" fill="none" opacity="1" stroke-linecap="butt" filter="url(#b05)"/>
<g mask="url(#softm)"><rect x="-50.0" y="-45.0" width="60.0" height="45.0" fill="#fff" filter="url(#mL2)" opacity="0.6"/></g>
</g></g>
<g transform="translate(270.2,199)"><g clip-path="url(#c6)">
<rect x="-75.2" y="-75.4" width="161.0" height="87.6" fill="url(#g33)" />
<rect x="0" y="-73.4" width="10" height="53.4" fill="url(#g34)" mask="url(#mvf)"/>
<g clip-path="url(#above)">
<path d="M-64,2.0 L-54,2.0 A56.0,56.0 0 0 0 2.0,-54 L2.0,-64" stroke="#80b0f0" stroke-width="3" fill="none" opacity="0.7" stroke-linecap="butt" filter="url(#b1)"/>
</g>
<g clip-path="url(#above)">
<path d="M-64,0.6000000000000014 L-54,0.6000000000000014 A54.6,54.6 0 0 0 0.6000000000000014,-54 L0.6000000000000014,-64" stroke="#4a7cc8" stroke-width="1.6" fill="none" opacity="0.6" stroke-linecap="butt" filter="url(#b05)"/>
</g>
<ellipse cx="-10.0" cy="-10.0" rx="35.0" ry="9.0" fill="#4272c0" opacity="0.55" filter="url(#b3)"/>
<path d="M-5,-4 Q-2,-20 3,-45" stroke="#4373c0" stroke-width="1.6" fill="none" opacity="0.35" stroke-linecap="butt" filter="url(#b1)"/>
<path d="M-11,-4 Q-5,-23 3,-41" stroke="#4373c0" stroke-width="1.6" fill="none" opacity="0.35" stroke-linecap="butt" filter="url(#b1)"/>
<path d="M-17,-4 Q-8,-26 3,-37" stroke="#4373c0" stroke-width="1.6" fill="none" opacity="0.35" stroke-linecap="butt" filter="url(#b1)"/>
<path d="M-23,-4 Q-11,-29 3,-33" stroke="#4373c0" stroke-width="1.6" fill="none" opacity="0.35" stroke-linecap="butt" filter="url(#b1)"/>
<path d="M-29,-4 Q-14,-32 3,-29" stroke="#4373c0" stroke-width="1.6" fill="none" opacity="0.35" stroke-linecap="butt" filter="url(#b1)"/>
<rect x="-73.2" y="0.0" width="157.0" height="10.2" fill="url(#g35)" />
<rect x="12.0" y="6.0" width="71.8" height="4.0" fill="#6a9be4" opacity="0.45" filter="url(#b1)"/>
<rect x="-45.0" y="6.5" width="75.0" height="4.0" fill="url(#g36)" filter="url(#b05)"/>
<path d="M-78.19999999999999,4.8 L-35,4.8 C-15,4.8 -2,0.2999999999999998 12,0.5999999999999996" stroke="url(#g37)" stroke-width="8.6" fill="none" opacity="1" stroke-linecap="round" filter="url(#b05)"/>
<path d="M-78.19999999999999,4.8 L-35,4.8 C-15,4.8 -2,0.2999999999999998 12,0.5999999999999996" stroke="url(#g38)" stroke-width="6.6" fill="none" opacity="1" stroke-linecap="round" filter="url(#b05)"/>
<path d="M-78.19999999999999,4.8 L-35,4.8 C-15,4.8 -2,0.2999999999999998 12,0.5999999999999996" stroke="url(#g39)" stroke-width="4.4" fill="none" opacity="1" stroke-linecap="butt" filter="url(#b05)"/>
<path d="M8,0.0 Q12,0.5 16,3.2" stroke="#e06a50" stroke-width="2.2" fill="none" opacity="0.9" stroke-linecap="butt" filter="url(#b05)"/>
<g mask="url(#softm)"><rect x="15.0" y="0.0" width="68.8" height="10.2" fill="#fff" filter="url(#mL4)" opacity="0.8"/></g>
</g></g>
<g transform="translate(434,199)"><g clip-path="url(#c7)">
<rect x="-77.3" y="-77.6" width="164.9" height="89.8" fill="#3567ae" />
<rect x="0" y="-75.6" width="10" height="65.6" fill="url(#g40)" mask="url(#mvf)"/>
<g mask="url(#softm)"><rect x="-52.0" y="-59.0" width="60.0" height="59.0" fill="#fff" filter="url(#mL1)" opacity="0.85"/></g>
<g mask="url(#softm)"><rect x="-52.0" y="-59.0" width="60.0" height="59.0" fill="#fff" filter="url(#mL5)" opacity="0.6"/></g>
<path d="M7,-56 Q5,-40 6,-25 Q6,-12 4,-3" stroke="#6c9de6" stroke-width="5" fill="none" opacity="0.75" stroke-linecap="butt" filter="url(#b15)"/>
<path d="M8,-50 Q7,-35 8,-20" stroke="#8ab6f2" stroke-width="2" fill="none" opacity="0.6" stroke-linecap="butt" filter="url(#b1)"/>
<path d="M-2,-25 Q0,-12 -6,-4" stroke="#5a8cd8" stroke-width="5" fill="none" opacity="0.5" stroke-linecap="butt" filter="url(#b2)"/>
<rect x="-75.3" y="0.0" width="160.9" height="10.2" fill="url(#g41)" />
<g mask="url(#softm)"><rect x="28.0" y="0.0" width="57.6" height="10.2" fill="#fff" filter="url(#mL4)" opacity="0.85"/></g>
<path d="M-78.30000000000001,3.7 L10,3.1 Q30,2.5 40,2.4 L40,5.4 Q30,6.4 10,6.9 L-78.30000000000001,6.3 Z" fill="url(#g42)" opacity="1" filter="url(#b05)"/>
<path d="M-78.30000000000001,5.0 L5,5.0 Q28,5.0 40,4.0" stroke="url(#g43)" stroke-width="1.8" fill="none" opacity="1" stroke-linecap="butt" filter="url(#b05)"/>
<path d="M36,4.0 Q44,2.0 50,2.4 L46,2.2" stroke="#ee9a80" stroke-width="1.5" fill="none" opacity="0.85" stroke-linecap="butt" filter="url(#b05)"/>
</g></g>
<g transform="translate(598.2,199)"><g clip-path="url(#c8)">
<rect x="-76.1" y="-75.8" width="162.1" height="88.0" fill="url(#g44)" />
<rect x="0" y="-73.8" width="10" height="63.8" fill="url(#g45)" mask="url(#mvf)"/>
<rect x="0.0" y="-73.8" width="10.0" height="20.0" fill="url(#g46)" />
<g clip-path="url(#above)">
<path d="M-64,3.5 L-54,3.5 A57.5,57.5 0 0 0 3.5,-54 L3.5,-64" stroke="#3a6cb8" stroke-width="5" fill="none" opacity="0.45" stroke-linecap="butt" filter="url(#b15)"/>
</g>
<g clip-path="url(#above)">
<path d="M-64,0.6000000000000014 L-54,0.6000000000000014 A54.6,54.6 0 0 0 0.6000000000000014,-54 L0.6000000000000014,-64" stroke="#5a8ee0" stroke-width="1.2" fill="none" opacity="0.6" stroke-linecap="butt" filter="url(#b05)"/>
</g>
<g mask="url(#softm)"><rect x="-52.0" y="-59.0" width="60.0" height="59.0" fill="#fff" filter="url(#mL3)" opacity="0.55"/></g>
<g mask="url(#softm)"><rect x="-52.0" y="-59.0" width="60.0" height="59.0" fill="#fff" filter="url(#mL2)" opacity="0.55"/></g>
<g mask="url(#softm)"><rect x="-52.0" y="-59.0" width="60.0" height="59.0" fill="#fff" filter="url(#mL5)" opacity="0.8"/></g>
<rect x="-74.1" y="0.0" width="158.1" height="10.2" fill="url(#g47)" />
<rect x="-74.1" y="0.0" width="30.1" height="4.0" fill="url(#g48)" filter="url(#b05)"/>
<rect x="-74.1" y="0.0" width="60.0" height="10.2" fill="url(#g49)" />
<path d="M-50,7.2 Q0,7.8 40,6.8" stroke="url(#g50)" stroke-width="1.8" fill="none" opacity="1" stroke-linecap="butt" filter="url(#b05)"/>
<path d="M-50,8.5 Q0,9 40,8.5" stroke="url(#g51)" stroke-width="1.5" fill="none" opacity="1" stroke-linecap="butt" filter="url(#b05)"/>
<g mask="url(#softm)"><rect x="25.0" y="0.0" width="59.0" height="10.2" fill="#fff" filter="url(#mL4)" opacity="0.85"/></g>
</g></g>
<g transform="translate(108,304)"><g clip-path="url(#c9)">
<rect x="-75.9" y="-75.9" width="161.8" height="88.0" fill="#3567ad" />
<rect x="0" y="-73.9" width="10" height="65.9" fill="url(#g52)" mask="url(#mvf)"/>
<g clip-path="url(#above)">
<path d="M6,-64 L6,-54 A58,58 0 0 0 64,4 L74,4" stroke="#4a7fcc" stroke-width="3" fill="none" opacity="0.6" stroke-linecap="butt" filter="url(#b1)"/>
<path d="M-64,4 L-54,4 A58,58 0 0 0 4,-54 L4,-64" stroke="#4a7fcc" stroke-width="3" fill="none" opacity="0.6" stroke-linecap="butt" filter="url(#b1)"/>
</g>
<g clip-path="url(#above)">
<path d="M9.5,-64 L9.5,-54 A54.5,54.5 0 0 0 64,0.5 L74,0.5" stroke="#2f5fa5" stroke-width="1.5" fill="none" opacity="0.7" stroke-linecap="butt" filter="url(#b05)"/>
<path d="M-64,0.5 L-54,0.5 A54.5,54.5 0 0 0 0.5,-54 L0.5,-64" stroke="#2f5fa5" stroke-width="1.5" fill="none" opacity="0.7" stroke-linecap="butt" filter="url(#b05)"/>
</g>
<ellipse cx="45.0" cy="-3.0" rx="32.0" ry="5.0" fill="#4a80cc" opacity="0.6" filter="url(#b2)"/>
<ellipse cx="-25.0" cy="-3.0" rx="32.0" ry="5.0" fill="#4a80cc" opacity="0.6" filter="url(#b2)"/>
<g mask="url(#softm)"><rect x="-50.0" y="-50.0" width="110.0" height="50.0" fill="#fff" filter="url(#mL0)" opacity="0.7"/></g>
<g mask="url(#softm)"><rect x="-50.0" y="-50.0" width="110.0" height="50.0" fill="#fff" filter="url(#mL5)" opacity="0.6"/></g>
<rect x="-2.0" y="0.0" width="85.9" height="10.1" fill="url(#g53)" />
<rect x="43.9" y="0.0" width="40.0" height="10.1" fill="url(#g54)" />
<rect x="-73.9" y="0.0" width="103.9" height="10.1" fill="url(#g55)" mask="url(#hm2)"/>
<ellipse cx="-68.9" cy="5.0" rx="10.0" ry="1.7" fill="#dcc8c0" opacity="0.75" filter="url(#b1)"/>
<rect x="-45.0" y="0.0" width="85.0" height="6.1" fill="url(#g57)" />
<rect x="-45.0" y="0.0" width="85.0" height="10.1" fill="url(#g58)" />
<path d="M-50,7 Q-10,7.5 20,6.5 Q35,5 45,6.5 T83.9,6.5" stroke="#8ab8f4" stroke-width="2.2" fill="none" opacity="0.8" stroke-linecap="butt" filter="url(#b1)"/>
<path d="M-40,6.8 Q-10,6 15,7 T60,6.5 T83.9,7" stroke="#86b3f2" stroke-width="1.8" fill="none" opacity="0.8" stroke-linecap="butt" filter="url(#b1)"/>
<path d="M-35,9.2 L83.9,9.2" stroke="url(#g59)" stroke-width="1.5" fill="none" opacity="1" stroke-linecap="butt" filter="url(#b05)"/>
<g mask="url(#softm)"><rect x="-50.0" y="-45.0" width="60.0" height="45.0" fill="#fff" filter="url(#mL2)" opacity="0.6"/></g>
</g></g>
<g transform="translate(272.6,304)"><g clip-path="url(#c10)">
<rect x="-76.7" y="-76.4" width="163.9" height="88.5" fill="url(#g60)" />
<rect x="0" y="-74.4" width="10" height="54.4" fill="url(#g61)" mask="url(#mvf)"/>
<g clip-path="url(#above)">
<path d="M8.0,-64 L8.0,-54 A56.0,56.0 0 0 0 64,2.0 L74,2.0" stroke="#80b0f0" stroke-width="3" fill="none" opacity="0.7" stroke-linecap="butt" filter="url(#b1)"/>
<path d="M-64,2.0 L-54,2.0 A56.0,56.0 0 0 0 2.0,-54 L2.0,-64" stroke="#80b0f0" stroke-width="3" fill="none" opacity="0.7" stroke-linecap="butt" filter="url(#b1)"/>
</g>
<g clip-path="url(#above)">
<path d="M9.399999999999999,-64 L9.399999999999999,-54 A54.6,54.6 0 0 0 64,0.6000000000000014 L74,0.6000000000000014" stroke="#4a7cc8" stroke-width="1.6" fill="none" opacity="0.6" stroke-linecap="butt" filter="url(#b05)"/>
<path d="M-64,0.6000000000000014 L-54,0.6000000000000014 A54.6,54.6 0 0 0 0.6000000000000014,-54 L0.6000000000000014,-64" stroke="#4a7cc8" stroke-width="1.6" fill="none" opacity="0.6" stroke-linecap="butt" filter="url(#b05)"/>
</g>
<ellipse cx="-10.0" cy="-10.0" rx="35.0" ry="9.0" fill="#4272c0" opacity="0.55" filter="url(#b3)"/>
<ellipse cx="25.0" cy="-10.0" rx="30.0" ry="8.0" fill="#4272c0" opacity="0.45" filter="url(#b3)"/>
<path d="M-5,-4 Q-2,-20 3,-45" stroke="#4373c0" stroke-width="1.6" fill="none" opacity="0.35" stroke-linecap="butt" filter="url(#b1)"/>
<path d="M-11,-4 Q-5,-23 3,-41" stroke="#4373c0" stroke-width="1.6" fill="none" opacity="0.35" stroke-linecap="butt" filter="url(#b1)"/>
<path d="M-17,-4 Q-8,-26 3,-37" stroke="#4373c0" stroke-width="1.6" fill="none" opacity="0.35" stroke-linecap="butt" filter="url(#b1)"/>
<path d="M-23,-4 Q-11,-29 3,-33" stroke="#4373c0" stroke-width="1.6" fill="none" opacity="0.35" stroke-linecap="butt" filter="url(#b1)"/>
<path d="M-29,-4 Q-14,-32 3,-29" stroke="#4373c0" stroke-width="1.6" fill="none" opacity="0.35" stroke-linecap="butt" filter="url(#b1)"/>
<ellipse cx="32.0" cy="-12.0" rx="10.0" ry="6.0" fill="#3f6fbd" opacity="0.6" filter="url(#b2)"/>
<ellipse cx="-25.0" cy="-6.0" rx="14.0" ry="4.0" fill="#8ab4f0" opacity="0.5" filter="url(#b2)"/>
<rect x="-74.7" y="0.0" width="159.9" height="10.1" fill="url(#g62)" />
<rect x="12.0" y="6.0" width="73.2" height="4.0" fill="#6a9be4" opacity="0.45" filter="url(#b1)"/>
<rect x="-45.0" y="6.5" width="75.0" height="4.0" fill="url(#g63)" filter="url(#b05)"/>
<path d="M-79.70000000000002,4.6 L-50,4.6 C-25,4.6 -8,0.7999999999999998 11,0.0" stroke="url(#g64)" stroke-width="8.6" fill="none" opacity="1" stroke-linecap="round" filter="url(#b05)"/>
<path d="M-79.70000000000002,4.6 L-50,4.6 C-25,4.6 -8,0.7999999999999998 11,0.0" stroke="url(#g65)" stroke-width="6.6" fill="none" opacity="1" stroke-linecap="round" filter="url(#b05)"/>
<path d="M-79.70000000000002,4.6 L-50,4.6 C-25,4.6 -8,0.7999999999999998 11,0.0" stroke="url(#g66)" stroke-width="4.4" fill="none" opacity="1" stroke-linecap="butt" filter="url(#b05)"/>
<ellipse cx="23.0" cy="6.0" rx="10.0" ry="3.0" fill="#8ab4f0" opacity="0.6" filter="url(#b1)"/>
</g></g>
<g transform="translate(436.1,304)"><g clip-path="url(#c11)">
<rect x="-75.2" y="-75.1" width="160.3" height="87.2" fill="#3567ae" />
<rect x="0" y="-73.1" width="10" height="63.1" fill="url(#g67)" mask="url(#mvf)"/>
<g mask="url(#softm)"><rect x="-52.0" y="-59.0" width="114.0" height="59.0" fill="#fff" filter="url(#mL1)" opacity="0.55"/></g>
<g mask="url(#softm)"><rect x="-52.0" y="-59.0" width="114.0" height="59.0" fill="#fff" filter="url(#mL5)" opacity="0.6"/></g>
<path d="M6,-33 Q12,-28 15,-22 Q19,-15 24,-10 Q34,-5 50,-2" stroke="#7eaaec" stroke-width="5" fill="none" opacity="0.75" stroke-linecap="butt" filter="url(#b1)"/>
<path d="M7,-34 Q13,-29 16,-23" stroke="#a8c8f4" stroke-width="3" fill="none" opacity="0.7" stroke-linecap="butt" filter="url(#b1)"/>
<path d="M-40,-3 Q-20,-8 -5,-20" stroke="#4a7ecb" stroke-width="5" fill="none" opacity="0.5" stroke-linecap="butt" filter="url(#b2)"/>
<rect x="-73.2" y="0.0" width="156.3" height="10.1" fill="url(#g68)" />
<g mask="url(#softm)"><rect x="28.0" y="0.0" width="55.1" height="10.1" fill="#fff" filter="url(#mL4)" opacity="0.85"/></g>
<path d="M-76.20000000000005,3.4 L10,2.6 Q30,1.52 40,1.6 L40,4.6 Q30,6.5 10,7.4 L-76.20000000000005,6.6 Z" fill="url(#g69)" opacity="1" filter="url(#b05)"/>
<path d="M-76.20000000000005,5.0 L5,5.0 Q28,5.0 40,3.2" stroke="url(#g70)" stroke-width="1.8" fill="none" opacity="1" stroke-linecap="butt" filter="url(#b05)"/>
<path d="M36,3.2 Q44,1.2000000000000002 50,1.6 L44,1.4000000000000001" stroke="#ee9a80" stroke-width="1.5" fill="none" opacity="0.85" stroke-linecap="butt" filter="url(#b05)"/>
<ellipse cx="29.0" cy="3.8" rx="3.5" ry="1.3" fill="#b01830" opacity="0.85" filter="url(#b05)"/>
</g></g>
<g transform="translate(598.3,304)"><g clip-path="url(#c12)">
<rect x="-76.0" y="-75.5" width="161.8" height="87.6" fill="url(#g71)" />
<rect x="0" y="-73.5" width="10" height="63.5" fill="url(#g72)" mask="url(#mvf)"/>
<rect x="0.0" y="-73.5" width="10.0" height="20.0" fill="url(#g73)" />
<g clip-path="url(#above)">
<path d="M6.5,-64 L6.5,-54 A57.5,57.5 0 0 0 64,3.5 L74,3.5" stroke="#3a6cb8" stroke-width="5" fill="none" opacity="0.45" stroke-linecap="butt" filter="url(#b15)"/>
<path d="M-64,3.5 L-54,3.5 A57.5,57.5 0 0 0 3.5,-54 L3.5,-64" stroke="#3a6cb8" stroke-width="5" fill="none" opacity="0.45" stroke-linecap="butt" filter="url(#b15)"/>
</g>
<g clip-path="url(#above)">
<path d="M9.399999999999999,-64 L9.399999999999999,-54 A54.6,54.6 0 0 0 64,0.6000000000000014 L74,0.6000000000000014" stroke="#5a8ee0" stroke-width="1.2" fill="none" opacity="0.6" stroke-linecap="butt" filter="url(#b05)"/>
<path d="M-64,0.6000000000000014 L-54,0.6000000000000014 A54.6,54.6 0 0 0 0.6000000000000014,-54 L0.6000000000000014,-64" stroke="#5a8ee0" stroke-width="1.2" fill="none" opacity="0.6" stroke-linecap="butt" filter="url(#b05)"/>
</g>
<g mask="url(#softm)"><rect x="-52.0" y="-59.0" width="114.0" height="59.0" fill="#fff" filter="url(#mL3)" opacity="0.55"/></g>
<g mask="url(#softm)"><rect x="-52.0" y="-59.0" width="114.0" height="59.0" fill="#fff" filter="url(#mL2)" opacity="0.55"/></g>
<g mask="url(#softm)"><rect x="-52.0" y="-59.0" width="114.0" height="59.0" fill="#fff" filter="url(#mL5)" opacity="0.8"/></g>
<rect x="-74.0" y="0.0" width="157.8" height="10.1" fill="url(#g74)" />
<rect x="-74.0" y="0.0" width="30.0" height="4.0" fill="url(#g75)" filter="url(#b05)"/>
<rect x="-74.0" y="0.0" width="60.0" height="10.1" fill="url(#g76)" />
<path d="M-50,7.2 Q0,7.8 40,6.8" stroke="url(#g77)" stroke-width="1.8" fill="none" opacity="1" stroke-linecap="butt" filter="url(#b05)"/>
<path d="M-50,8.5 Q0,9 40,8.5" stroke="url(#g78)" stroke-width="1.5" fill="none" opacity="1" stroke-linecap="butt" filter="url(#b05)"/>
<g mask="url(#softm)"><rect x="25.0" y="0.0" width="58.8" height="10.1" fill="#fff" filter="url(#mL4)" opacity="0.85"/></g>
</g></g>
<g style="will-change:transform"><text x="106.8" y="10" font-family="Liberation Serif" font-size="12" fill="#151515" stroke="#151515" stroke-width="0.12"><tspan textLength="12.5" lengthAdjust="spacingAndGlyphs">90</tspan><tspan font-size="7" dy="-4" stroke-width="0.1">o</tspan></text>
<text x="266.2" y="10" font-family="Liberation Serif" font-size="12" fill="#151515" stroke="#151515" stroke-width="0.12"><tspan textLength="18.2" lengthAdjust="spacingAndGlyphs">135</tspan><tspan font-size="7" dy="-4" stroke-width="0.1">o</tspan></text>
<text x="430.0" y="10" font-family="Liberation Serif" font-size="12" fill="#151515" stroke="#151515" stroke-width="0.12"><tspan textLength="18.4" lengthAdjust="spacingAndGlyphs">180</tspan><tspan font-size="7" dy="-4" stroke-width="0.1">o</tspan></text>
<text x="592.0" y="10" font-family="Liberation Serif" font-size="12" fill="#151515" stroke="#151515" stroke-width="0.12"><tspan textLength="18.6" lengthAdjust="spacingAndGlyphs">225</tspan><tspan font-size="7" dy="-4" stroke-width="0.1">0</tspan></text>
<text x="2.5" y="33.8" font-family="Liberation Serif" font-size="14" fill="#151515" stroke="#151515" stroke-width="0.12">R<tspan font-size="6.6" dy="4.3" stroke-width="0.15">c</tspan><tspan dy="-4.3" dx="1.3">= 0D x 6D</tspan></text>
<text x="2.5" y="139.5" font-family="Liberation Serif" font-size="14" fill="#151515" stroke="#151515" stroke-width="0.12">R<tspan font-size="6.6" dy="4.3" stroke-width="0.15">c</tspan><tspan dy="-4.3" dx="1.3">= 6D x 0D</tspan></text>
<text x="2.5" y="242.0" font-family="Liberation Serif" font-size="14" fill="#151515" stroke="#151515" stroke-width="0.12">R<tspan font-size="6.6" dy="4.3" stroke-width="0.15">c</tspan><tspan dy="-4.3" dx="1.3">= 6D x 6D</tspan></text>
<rect x="211" y="325" width="302" height="6" fill="url(#g79)" stroke="#334" stroke-width="0.3"/>
<rect x="210.8" y="325" width="0.9" height="6" fill="#1c2434"/><rect x="512.3" y="325" width="0.9" height="6" fill="#2a1018"/>
<text x="193.0" y="343" font-family="Liberation Serif" font-size="11.4" fill="#151515" stroke="#151515" stroke-width="0.12" textLength="6.1" lengthAdjust="spacingAndGlyphs">0</text>
<text x="232.6" y="343" font-family="Liberation Serif" font-size="11.4" fill="#151515" stroke="#151515" stroke-width="0.12" textLength="6.1" lengthAdjust="spacingAndGlyphs">2</text>
<text x="272.3" y="343" font-family="Liberation Serif" font-size="11.4" fill="#151515" stroke="#151515" stroke-width="0.12" textLength="6.1" lengthAdjust="spacingAndGlyphs">4</text>
<text x="311.8" y="343" font-family="Liberation Serif" font-size="11.4" fill="#151515" stroke="#151515" stroke-width="0.12" textLength="6.1" lengthAdjust="spacingAndGlyphs">6</text>
<text x="351.6" y="343" font-family="Liberation Serif" font-size="11.4" fill="#151515" stroke="#151515" stroke-width="0.12" textLength="6.1" lengthAdjust="spacingAndGlyphs">8</text>
<text x="391.4" y="343" font-family="Liberation Serif" font-size="11.4" fill="#151515" stroke="#151515" stroke-width="0.12" textLength="12.3" lengthAdjust="spacingAndGlyphs">10</text>
<text x="434.1" y="343" font-family="Liberation Serif" font-size="11.4" fill="#151515" stroke="#151515" stroke-width="0.12" textLength="12.3" lengthAdjust="spacingAndGlyphs">12</text>
<text x="476.8" y="343" font-family="Liberation Serif" font-size="11.4" fill="#151515" stroke="#151515" stroke-width="0.12" textLength="12.3" lengthAdjust="spacingAndGlyphs">14</text>
<text x="518.9" y="343" font-family="Liberation Serif" font-size="11.4" fill="#151515" stroke="#151515" stroke-width="0.12" textLength="12.3" lengthAdjust="spacingAndGlyphs">16</text>
<text x="292.4" y="354.6" font-family="Liberation Serif" font-size="12" fill="#151515" stroke="#151515" stroke-width="0.12" textLength="134.4" lengthAdjust="spacingAndGlyphs">Velocity magnitude (m/s)</text></g>
</svg>
</body></html>
